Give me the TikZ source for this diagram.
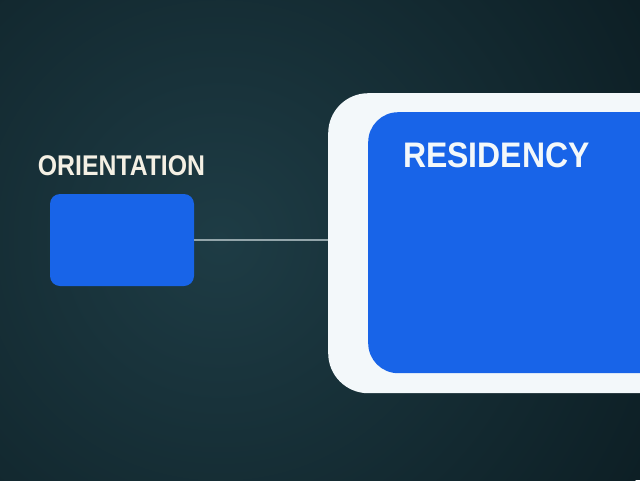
\documentclass[tikz,border=0pt]{standalone}
\usepackage{fontspec}
\setmainfont{Liberation Sans}
\usetikzlibrary{positioning}
\definecolor{bgin}{HTML}{1E3C45}
\definecolor{bgout}{HTML}{0D1F25}
\definecolor{stageblue}{HTML}{1864E8}
\definecolor{framewhite}{HTML}{F3F8FA}
\definecolor{linkgray}{HTML}{93A5AA}
\definecolor{cream}{HTML}{F4F0E4}
\tikzset{
  block/.style={fill=stageblue, draw=none, inner sep=0pt},
  link/.style={draw=linkgray, line width=1.2pt},
  lbl/.style={inner sep=0pt, font=\bfseries}
}
\begin{document}
\begin{tikzpicture}[x=1pt,y=-1pt]
\useasboundingbox (0,0) rectangle (640,480);
\begin{scope}
\clip (0,0) rectangle (640,480);
\fill[bgout] (0,0) rectangle (640,480);
\shade[inner color=bgin, outer color=bgout] (220,240) circle (480);
\end{scope}
\node[block, rounded corners=10pt, minimum width=144pt, minimum height=92pt] (orient) at (122,240) {};
\node[lbl, anchor=base, text=cream, font=\bfseries\fontsize{28.5}{28.5}\selectfont] (orientlbl) at (121.5,175) {\scalebox{0.87}[1]{ORIENTATION}};
\node[fill=framewhite, draw=none, rounded corners=40pt, minimum width=400pt, minimum height=300pt, anchor=north west] (resframe) at (328,93) {};
\node[block, rounded corners=30pt, minimum width=340pt, minimum height=261pt, anchor=north west] (resblock) at (368,112) {};
\node[lbl, anchor=base west, text=framewhite, font=\bfseries\fontsize{35.5}{35.5}\selectfont] (reslbl) at (403,167) {\scalebox{0.9}[1]{RESIDENCY}};
\draw[link] (orient.east) -- (orient.east -| resframe.west);
\end{tikzpicture}
\end{document}
